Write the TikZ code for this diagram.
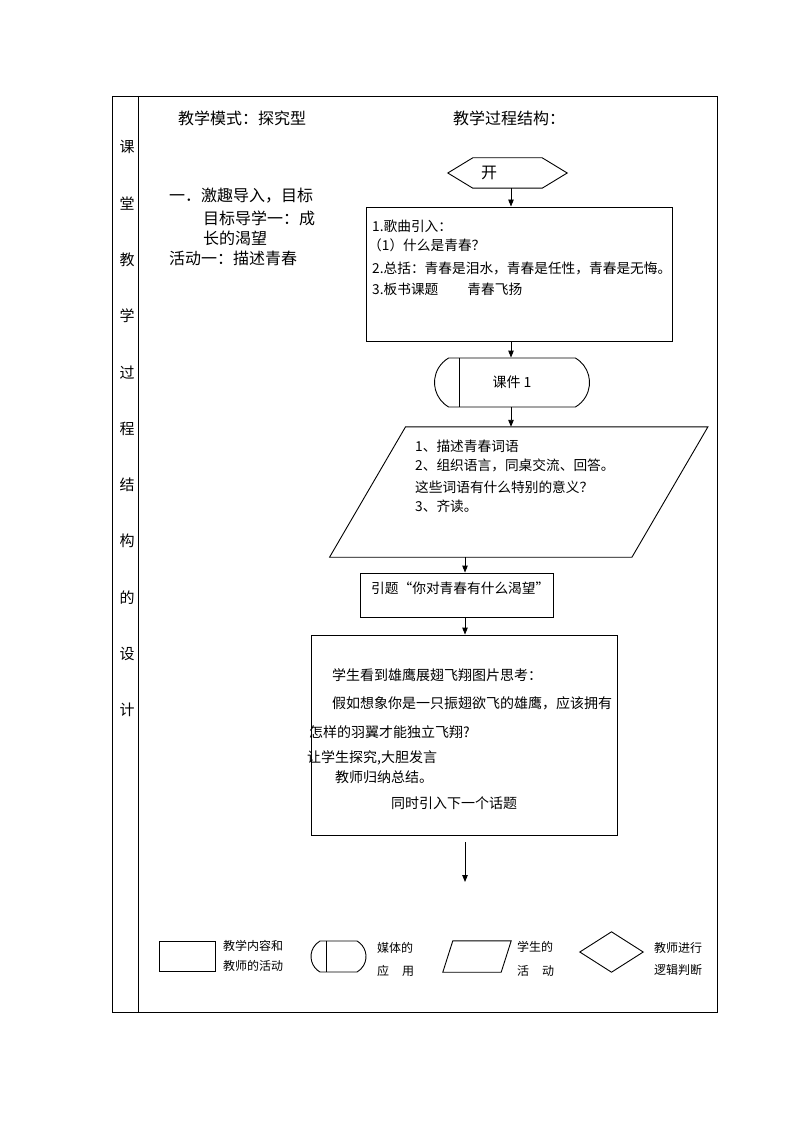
\documentclass[tikz,border=0pt]{standalone}
\usepackage{fontspec}
\setmainfont{Noto Sans CJK SC}
\usetikzlibrary{arrows.meta,shapes.misc}
\begin{document}
\begin{tikzpicture}[x=1pt,y=-1pt,
  frame/.style={draw, line width=0.9pt},
  shp/.style={draw, line width=0.9pt, inner sep=0, rectangle},
  ghost/.style={inner sep=0, rectangle},
  arr/.style={-{Triangle[length=7pt,width=5.5pt]}, line width=0.9pt},
  txt/.style={anchor=west, inner sep=0, font=\fontsize{14}{16}\selectfont},
  txta/.style={txt, font=\fontsize{13.7}{16}\selectfont},
  txtb/.style={txt, font=\fontsize{13.7}{16}\selectfont},
  txth/.style={txt, font=\fontsize{16}{18}\selectfont},
  txtl/.style={txt, font=\fontsize{12}{14}\selectfont},
  side/.style={inner sep=0, font=\fontsize{15}{17}\selectfont},
  termshape/.style={draw, line width=0.9pt, rounded rectangle, rounded rectangle arc length=120, inner sep=0}
]
\useasboundingbox (0,0) rectangle (794,1123);
% frame
\draw[frame] (112,96) rectangle (717,1012);
\draw[frame] (138,96) -- (138,1012);
% side column
\foreach \c [count=\i from 0] in {课,堂,教,学,过,程,结,构,的,设,计}
  \node[side] (side\i) at (127,{147+56.3*\i}) {\c};
% headers
\node[txth] (h1) at (178,118) {教学模式：探究型};
\node[txth] (h2) at (453,118) {教学过程结构：};
% left text
\node[txth] (l1) at (169,196) {一．激趣导入，目标};
\node[txth] (l2) at (203,218) {目标导学一：成};
\node[txth] (l3) at (203,238) {长的渴望};
\node[txth] (l4) at (169,258) {活动一：描述青春};
% axis coordinates for connectors
\coordinate (ax) at (511,0);
\coordinate (bx) at (465,0);
% hexagon
\node[ghost, minimum width=119, minimum height=30] (hex) at (507.5,173) {};
\draw[line width=0.9pt] (hex.west) -- ([xshift=25]hex.north west) -- ([xshift=-25]hex.north east)
  -- (hex.east) -- ([xshift=-25]hex.south east) -- ([xshift=25]hex.south west) -- cycle;
\node[side, font=\fontsize{16}{18}\selectfont] (hext) at (489,173) {开};
% box1
\node[shp, minimum width=306, minimum height=134] (box1) at (519,274) {};
\node[txta] (b1a) at (372,226) {1.歌曲引入：};
\node[txta] (b1b) at (368,245) {（1）什么是青春？};
\node[txta] (b1c) at (372,268) {2.总括：青春是泪水，青春是任性，青春是无悔。};
\node[txta] (b1d) at (372,289) {3.板书课题\hspace{29pt}青春飞扬};
% terminal
\node[termshape, minimum width=155, minimum height=49, font=\fontsize{14}{16}\selectfont] (term) at (512,382.5) {课件 1};
\draw[line width=0.9pt] ([xshift=25]term.west |- term.north) -- ([xshift=25]term.west |- term.south);
% parallelogram
\node[ghost, minimum width=302, minimum height=130] (par) at (518.75,492) {};
\draw[line width=0.9pt] ([xshift=-38]par.south west) -- ([xshift=-38]par.south east)
  -- ([xshift=38]par.north east) -- ([xshift=38]par.north west) -- cycle;
\node[txtb] (p1) at (415,446) {1、描述青春词语};
\node[txtb] (p2) at (415,465) {2、组织语言，同桌交流、回答。};
\node[txtb] (p3) at (415,487) {这些词语有什么特别的意义？};
\node[txtb] (p4) at (415,506) {3、齐读。};
% box2
\node[shp, minimum width=193, minimum height=44] (box2) at (456.5,595) {};
\node[txtb] (b2a) at (371,588) {引题“你对青春有什么渴望”};
% box3
\node[shp, minimum width=306, minimum height=200] (box3) at (464,735) {};
\node[txt] (b3a) at (332,675) {学生看到雄鹰展翅飞翔图片思考：};
\node[txt] (b3b) at (332,703) {假如想象你是一只振翅欲飞的雄鹰，应该拥有};
\node[txt] (b3c) at (309,732) {怎样的羽翼才能独立飞翔?};
\node[txt] (b3d) at (307,758) {让学生探究,大胆发言};
\node[txt] (b3e) at (335,777) {教师归纳总结。};
\node[txt] (b3f) at (391,803) {同时引入下一个话题};
\coordinate (endpt) at (465,882);
% connectors
\draw[arr] (hex.south -| ax) -- (box1.north -| ax);
\draw[arr] (box1.south -| ax) -- (term.north -| ax);
\draw[arr] (term.south -| ax) -- (par.north -| ax);
\draw[arr] (par.south -| bx) -- (box2.north -| bx);
\draw[arr] (box2.south -| bx) -- (box3.north -| bx);
\draw[arr] ([yshift=-7]box3.south -| bx) -- (endpt);
% legend
\node[shp, minimum width=56, minimum height=30] (lrect) at (187,956) {};
\node[txtl] (lt1) at (223,946) {教学内容和};
\node[txtl] (lt2) at (223,966) {教师的活动};
\node[termshape, minimum width=55, minimum height=31] (lterm) at (338.5,956.5) {};
\draw[line width=0.9pt] ([xshift=16]lterm.west |- lterm.north) -- ([xshift=16]lterm.west |- lterm.south);
\node[txtl] (lt3) at (377,948) {媒体的};
\node[txtl] (lt4) at (377,971) {应\hspace{13pt}用};
\node[ghost, minimum width=58, minimum height=31] (lpar) at (477,956.5) {};
\draw[line width=0.9pt] ([xshift=-5]lpar.south west) -- ([xshift=-5]lpar.south east)
  -- ([xshift=5]lpar.north east) -- ([xshift=5]lpar.north west) -- cycle;
\node[txtl] (lt5) at (517,947) {学生的};
\node[txtl] (lt6) at (517,971) {活\hspace{13pt}动};
\node[ghost, minimum width=63, minimum height=40] (ldia) at (611.5,952) {};
\draw[line width=0.9pt] (ldia.west) -- (ldia.north) -- (ldia.east) -- (ldia.south) -- cycle;
\node[txtl] (lt7) at (654,948) {教师进行};
\node[txtl] (lt8) at (654,970) {逻辑判断};
\end{tikzpicture}
\end{document}
